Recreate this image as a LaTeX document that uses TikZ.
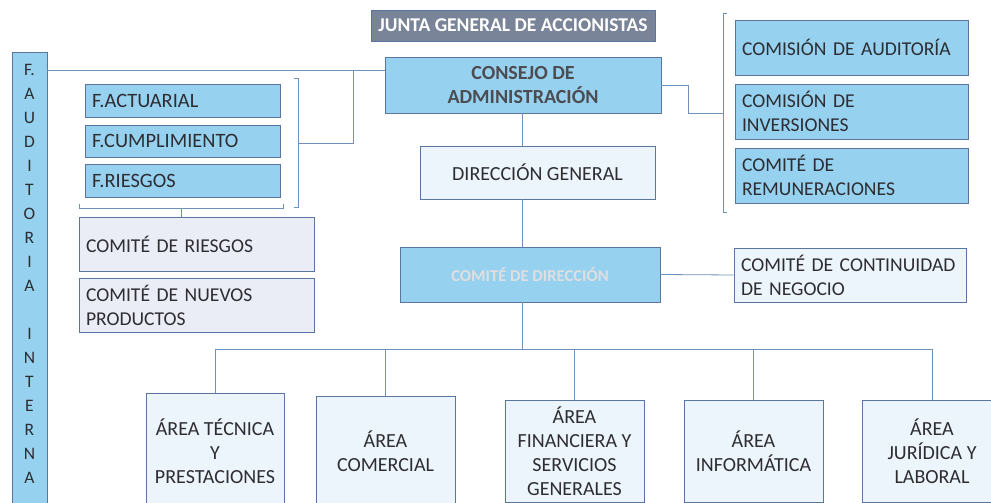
\documentclass[tikz,border=0pt]{standalone}
\usepackage{fontspec}
\setmainfont{Carlito}
\definecolor{cielo}{RGB}{150,210,240}
\definecolor{hielo}{RGB}{236,245,251}
\definecolor{lila}{RGB}{234,237,246}
\definecolor{pizarra}{RGB}{122,132,152}
\definecolor{borde}{RGB}{88,118,158}
\definecolor{linea}{RGB}{110,145,185}
\definecolor{tinta}{RGB}{45,45,50}
\newcommand{\tam}[1]{\fontsize{#1}{24}\selectfont}

\begin{document}
\begin{tikzpicture}[x=1pt,y=-1pt,
  caja/.style={draw=borde,line width=0.9pt,text=tinta,inner sep=0pt,font=\tam{19.6}},
  azul/.style={caja,fill=cielo},
  clara/.style={caja,fill=hielo},
  gris/.style={caja,fill=lila},
  izq/.style={align=left,text width=#1,inner xsep=7pt},
  conector/.style={draw=linea,line width=0.8pt}]
  \clip (0,0) rectangle (991,503);
  \fill[white] (0,0) rectangle (991,503);

  \node[caja,fill=pizarra,text=white,font=\bfseries\tam{19.5}, minimum width=284,minimum height=31] (jga) at (513,25.5) {JUNTA GENERAL DE ACCIONISTAS};
  \node[azul,text=tinta!85,font=\bfseries\tam{20},align=center,minimum width=276,minimum height=56] (cons) at (523,85) {CONSEJO DE\\ADMINISTRACIÓN};
  \node[clara,font=\tam{20},minimum width=235,minimum height=53] (dg) at (537.5,172.5) {DIRECCIÓN GENERAL};
  \node[azul,text=white!85!tinta,font=\bfseries\tam{16.6},minimum width=260,minimum height=55] (cdir) at (530,274.5) {COMITÉ DE DIRECCIÓN};
  \node[clara,izq=218,minimum height=54] (ccn) at (850,275) {COMITÉ DE CONTINUIDAD\\DE NEGOCIO};

  \node[azul,izq=219,minimum height=55] (caud) at (851.5,47.5) {COMISIÓN DE AUDITORÍA};
  \node[azul,izq=219,minimum height=55] (cinv) at (851.5,111.5) {COMISIÓN DE\\INVERSIONES};
  \node[azul,izq=219,minimum height=55] (crem) at (851.5,175.5) {COMITÉ DE\\REMUNERACIONES};

  \node[azul,font=\tam{20.4},izq=181,minimum height=33] (fact) at (182.5,100.5) {F.ACTUARIAL};
  \node[azul,font=\tam{20.4},izq=181,minimum height=32] (fcum) at (182.5,141) {F.CUMPLIMIENTO};
  \node[azul,font=\tam{20.4},izq=181,minimum height=33] (frie) at (182.5,180.5) {F.RIESGOS};
  \node[gris,izq=221,minimum height=54] (crie) at (196.5,244) {COMITÉ DE RIESGOS};
  \node[gris,izq=221,minimum height=54] (cnp) at (196.5,305) {COMITÉ DE NUEVOS\\PRODUCTOS};

  \node[azul,minimum width=35,minimum height=470] (aud) at (29.5,287) {};
  \foreach \l [count=\i from 0] in {F.,A,U,D,I,T,O,R,I,A,{},I,N,T,E,R,N,A}
    \node[text=tinta,font=\tam{17.5}] (aud\i) at (29.5,70+24*\i) {\l};

  \node[clara,font=\tam{20},align=center,minimum width=138,minimum height=116] (a1) at (215,451) {ÁREA TÉCNICA\\Y\\PRESTACIONES};
  \node[clara,font=\tam{20},align=center,minimum width=139,minimum height=110] (a2) at (385.5,451) {ÁREA\\COMERCIAL};
  \node[clara,font=\tam{20},align=center,minimum width=139,minimum height=102] (a3) at (574.5,451) {ÁREA\\FINANCIERA Y\\SERVICIOS\\GENERALES};
  \node[clara,font=\tam{20},align=center,minimum width=139,minimum height=102] (a4) at (753.5,451) {ÁREA\\INFORMÁTICA};
  \node[clara,font=\tam{20},align=center,minimum width=140,minimum height=102] (a5) at (932,451) {ÁREA\\JURÍDICA Y\\LABORAL};

  \coordinate (eje) at (522,349);
  \coordinate (tl) at ([yshift=15pt]cons.west);
  \coordinate (fj) at (353,70);
  \coordinate (fb) at (298,143);
  \coordinate (fs) at (181,208);
  \coordinate (rb) at (723,113);

  \path[conector] (aud.east |- tl) edge (tl)
    (cons.south -| eje) edge (dg.north -| eje) (dg.south -| eje) edge (cdir.north -| eje)
    (cdir.south -| eje) edge (eje) (cdir.east) edge (ccn.west)
    (fs) edge (fs |- crie.north);
  \draw[conector] (fb) -| (fj);
  \draw[conector] (cons.east) -- ++(27,0) |- (rb);
  \draw[conector] (294,78) -- (298,78) -- (298,207) -- (294,207);
  \draw[conector] (79,204) -- (79,208) -- (283,208) -- (283,204);
  \draw[conector] (727,13) -- (723,13) -- (723,212) -- (727,212);
  \draw[conector] (a1.north) |- (a5.north |- eje) -- (a5.north);
  \foreach \n in {a2,a3,a4}
    \draw[conector] (\n.north |- eje) -- (\n.north);
\end{tikzpicture}
\end{document}
